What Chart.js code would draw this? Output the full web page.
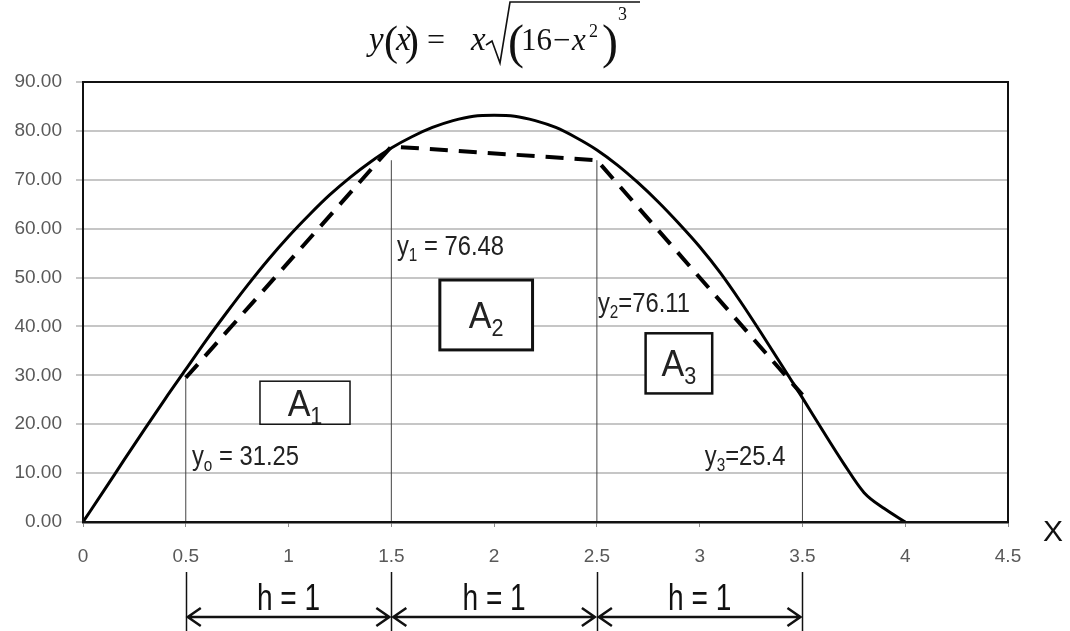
<!DOCTYPE html>
<html>
<head>
<meta charset="utf-8">
<script src="https://cdn.jsdelivr.net/npm/chart.js@4"></script>
<style>
  html, body { margin: 0; padding: 0; background: #fff; }
  #wrap { width: 1070px; height: 631px; position: relative; }
</style>
</head>
<body>
<div id="wrap"><canvas id="myChart"></canvas></div>
<script>
// curve y(x) = x*sqrt((16-x^2)^3)
const curveX = [0, 0.1, 0.2, 0.3, 0.4, 0.5, 0.6, 0.7, 0.8, 0.9, 1.0, 1.1, 1.2, 1.3, 1.4, 1.5, 1.6, 1.7, 1.8, 1.9, 2.0,
  2.1, 2.2, 2.3, 2.4, 2.5, 2.6, 2.7, 2.8, 2.9, 3.0, 3.1, 3.2, 3.3, 3.4, 3.5, 3.6, 3.7, 3.8, 3.9, 4.0];
const curveY = [0, 6.3, 12.7, 19.0, 25.2, 31.2, 37.2, 42.9, 48.4, 53.6, 58.4, 62.8, 66.9, 70.5, 73.7, 76.5, 78.8, 80.7, 82.1, 83.0, 83.2,
  83.0, 82.1, 80.7, 78.6, 76.1, 73.0, 69.4, 65.4, 61.0, 56.3, 51.0, 45.0, 38.6, 32.0, 25.4, 18.6, 12.0, 6.0, 2.7, 0];

// trapezoid chords (dashed)
const trapX = [0.5, 1.5, 2.5, 3.5];
const trapY = [29.5, 76.8, 74.0, 26.0];

// ordinates (thin vertical lines)
const ordX = [0.5, 1.5, 2.5, 3.5];
const ordTop = [29.5, 74, 74, 25.8];

// axis ticks
const xMin = 0, xMax = 4.5, xStep = 0.5;
const yMin = 0, yMax = 90, yStep = 10;

// annotations in data space
const valueLabels = [
  { x: 0.53, y: 11.7, sub: 'o', text: ' = 31.25' },
  { x: 1.527, y: 54.6, sub: '1', text: ' = 76.48' },
  { x: 2.505, y: 42.9, sub: '2', text: '=76.11' },
  { x: 3.025, y: 11.7, sub: '3', text: '=25.4' }
];
const areaBoxes = [
  { x1: 0.861, x2: 1.299, y1: 28.8, y2: 20.0, sub: '1', lw: 1.5 },
  { x1: 1.736, x2: 2.187, y1: 49.5, y2: 35.2, sub: '2', lw: 3 },
  { x1: 2.737, x2: 3.061, y1: 38.6, y2: 26.3, sub: '3', lw: 2.5 }
];
const stepLabel = 'h = 1';

Chart.defaults.font.family = "'Liberation Sans', Arial, sans-serif";

// draw text squeezed horizontally (narrow look)
function narrowText(ctx, s, x, y, k) {
  ctx.save();
  ctx.translate(x, y);
  ctx.scale(k, 1);
  ctx.fillText(s, 0, 0);
  ctx.restore();
  return ctx.measureText(s).width * k;
}

const overlay = {
  id: 'overlay',
  afterDatasetsDraw(chart) {
    const { ctx, scales: { x, y } } = chart;
    ctx.save();
    ctx.textBaseline = 'alphabetic';
    areaBoxes.forEach(b => {
      const l = x.getPixelForValue(b.x1), r = x.getPixelForValue(b.x2);
      const t = y.getPixelForValue(b.y1), bt = y.getPixelForValue(b.y2);
      ctx.fillStyle = '#fff';
      ctx.fillRect(l, t, r - l, bt - t);
      ctx.strokeStyle = '#111';
      ctx.lineWidth = b.lw;
      ctx.strokeRect(l, t, r - l, bt - t);
      ctx.fillStyle = '#222';
      ctx.font = "37px 'Liberation Sans'";
      const aw = ctx.measureText('A').width * 0.92;
      ctx.font = "24px 'Liberation Sans'";
      const sw = ctx.measureText(b.sub).width * 0.9;
      const sx = (l + r) / 2 - (aw + sw) / 2;
      const base = (t + bt) / 2 + 13;
      ctx.font = "37px 'Liberation Sans'";
      narrowText(ctx, 'A', sx, base, 0.92);
      ctx.font = "24px 'Liberation Sans'";
      narrowText(ctx, b.sub, sx + aw, base + 8, 0.9);
    });
    valueLabels.forEach(v => {
      let px = x.getPixelForValue(v.x);
      const py = y.getPixelForValue(v.y);
      ctx.fillStyle = '#222';
      ctx.font = "28px 'Liberation Sans'";
      px += narrowText(ctx, 'y', px, py, 0.85);
      ctx.font = "18px 'Liberation Sans'";
      px += narrowText(ctx, v.sub, px, py + 6, 0.85);
      ctx.font = "28px 'Liberation Sans'";
      narrowText(ctx, v.text, px, py, 0.85);
    });
    ctx.restore();
  },
  afterDraw(chart) {
    const { ctx, chartArea: a, scales: { x } } = chart;
    ctx.save();
    // plot frame
    ctx.strokeStyle = '#111';
    ctx.lineWidth = 2;
    ctx.strokeRect(a.left, a.top, a.right - a.left, a.bottom - a.top);

    // axis letter
    ctx.fillStyle = '#111';
    ctx.font = "30px 'Liberation Sans'";
    ctx.textAlign = 'center';
    ctx.textBaseline = 'middle';
    ctx.fillText('X', 1053, 533);

    // step markers below the axis
    const top = 572, arrowY = 617;
    ctx.lineWidth = 1.5;
    ordX.forEach(v => {
      const px = Math.round(x.getPixelForValue(v)) + 0.5;
      ctx.beginPath();
      ctx.moveTo(px, top);
      ctx.lineTo(px, chart.height);
      ctx.stroke();
    });
    ctx.textAlign = 'left';
    ctx.textBaseline = 'alphabetic';
    for (let i = 0; i < ordX.length - 1; i++) {
      const p1 = x.getPixelForValue(ordX[i]) + 2, p2 = x.getPixelForValue(ordX[i + 1]) - 2;
      ctx.lineWidth = 2.5;
      ctx.beginPath();
      ctx.moveTo(p1, arrowY); ctx.lineTo(p2, arrowY);
      ctx.moveTo(p1 + 13, arrowY - 9); ctx.lineTo(p1, arrowY); ctx.lineTo(p1 + 13, arrowY + 9);
      ctx.moveTo(p2 - 13, arrowY - 9); ctx.lineTo(p2, arrowY); ctx.lineTo(p2 - 13, arrowY + 9);
      ctx.stroke();
      ctx.font = "36px 'Liberation Sans'";
      const w = ctx.measureText(stepLabel).width * 0.78;
      narrowText(ctx, stepLabel, (p1 + p2) / 2 - w / 2, 610, 0.78);
    }

    // formula heading
    const serif = "'Liberation Serif', 'DejaVu Serif', serif";
    ctx.fillStyle = '#111';
    ctx.font = 'italic 33px ' + serif; ctx.fillText('y', 369, 50);
    ctx.font = '42px ' + serif; ctx.fillText('(', 384, 55);
    ctx.font = 'italic 33px ' + serif; ctx.fillText('x', 396, 50);
    ctx.font = '42px ' + serif; ctx.fillText(')', 405, 55);
    ctx.font = '32px ' + serif; ctx.fillText('=', 427, 50);
    ctx.font = 'italic 33px ' + serif; ctx.fillText('x', 471, 50);
    ctx.lineWidth = 1.6;
    ctx.beginPath();
    ctx.moveTo(486, 45); ctx.lineTo(492, 41); ctx.lineTo(500, 63);
    ctx.lineTo(510, 2); ctx.lineTo(640, 2);
    ctx.stroke();
    ctx.font = '48px ' + serif; ctx.fillText('(', 508, 58);
    ctx.font = '31px ' + serif; ctx.fillText('16', 521, 50);
    ctx.fillText('\u2212', 553, 50);
    ctx.font = 'italic 31px ' + serif; ctx.fillText('x', 572, 50);
    ctx.font = '18px ' + serif; ctx.fillText('2', 589, 37);
    ctx.font = '48px ' + serif; ctx.fillText(')', 602, 58);
    ctx.font = '18px ' + serif; ctx.fillText('3', 618, 20);
    ctx.restore();
  }
};

const pts = (xs, ys) => xs.map((v, i) => ({ x: v, y: ys[i] }));

const ordinateSets = ordX.map((v, i) => ({
  data: [{ x: v, y: 0 }, { x: v, y: ordTop[i] }],
  showLine: true,
  borderColor: '#444',
  borderWidth: 1,
  pointRadius: 0,
  order: 3
}));

new Chart(document.getElementById('myChart'), {
  type: 'scatter',
  data: {
    datasets: [
      {
        label: 'y(x)',
        data: pts(curveX, curveY),
        showLine: true,
        borderColor: '#000',
        borderWidth: 3,
        pointRadius: 0,
        cubicInterpolationMode: 'monotone',
        order: 1
      },
      {
        label: 'trapezoid',
        data: pts(trapX, trapY),
        showLine: true,
        borderColor: '#000',
        borderWidth: 4,
        borderDash: [18, 11],
        pointRadius: 0,
        order: 2
      },
      ...ordinateSets
    ]
  },
  options: {
    responsive: true,
    maintainAspectRatio: false,
    animation: false,
    events: [],
    layout: { padding: { top: 82, right: 62, left: 0, bottom: 0 } },
    plugins: {
      legend: { display: false },
      tooltip: { enabled: false },
      title: { display: false }
    },
    scales: {
      x: {
        type: 'linear',
        min: xMin,
        max: xMax,
        afterFit: (s) => { s.height = 109; },
        ticks: {
          stepSize: xStep,
          color: '#595959',
          font: { size: 19 },
          padding: 18,
          maxRotation: 0,
          callback: (v) => `${v}`
        },
        grid: { drawOnChartArea: false, tickLength: 5, color: '#8c8c8c', lineWidth: 1 },
        border: { color: '#111', width: 2.5 }
      },
      y: {
        min: yMin,
        max: yMax,
        afterFit: (s) => { s.width = 83; },
        ticks: {
          stepSize: yStep,
          color: '#595959',
          font: { size: 19 },
          padding: 14,
          callback: (v) => v.toFixed(2)
        },
        grid: { color: '#c6c6c6', lineWidth: 2, tickLength: 7 },
        border: { color: '#404040', width: 2 }
      }
    }
  },
  plugins: [overlay]
});
</script>
</body>
</html>
